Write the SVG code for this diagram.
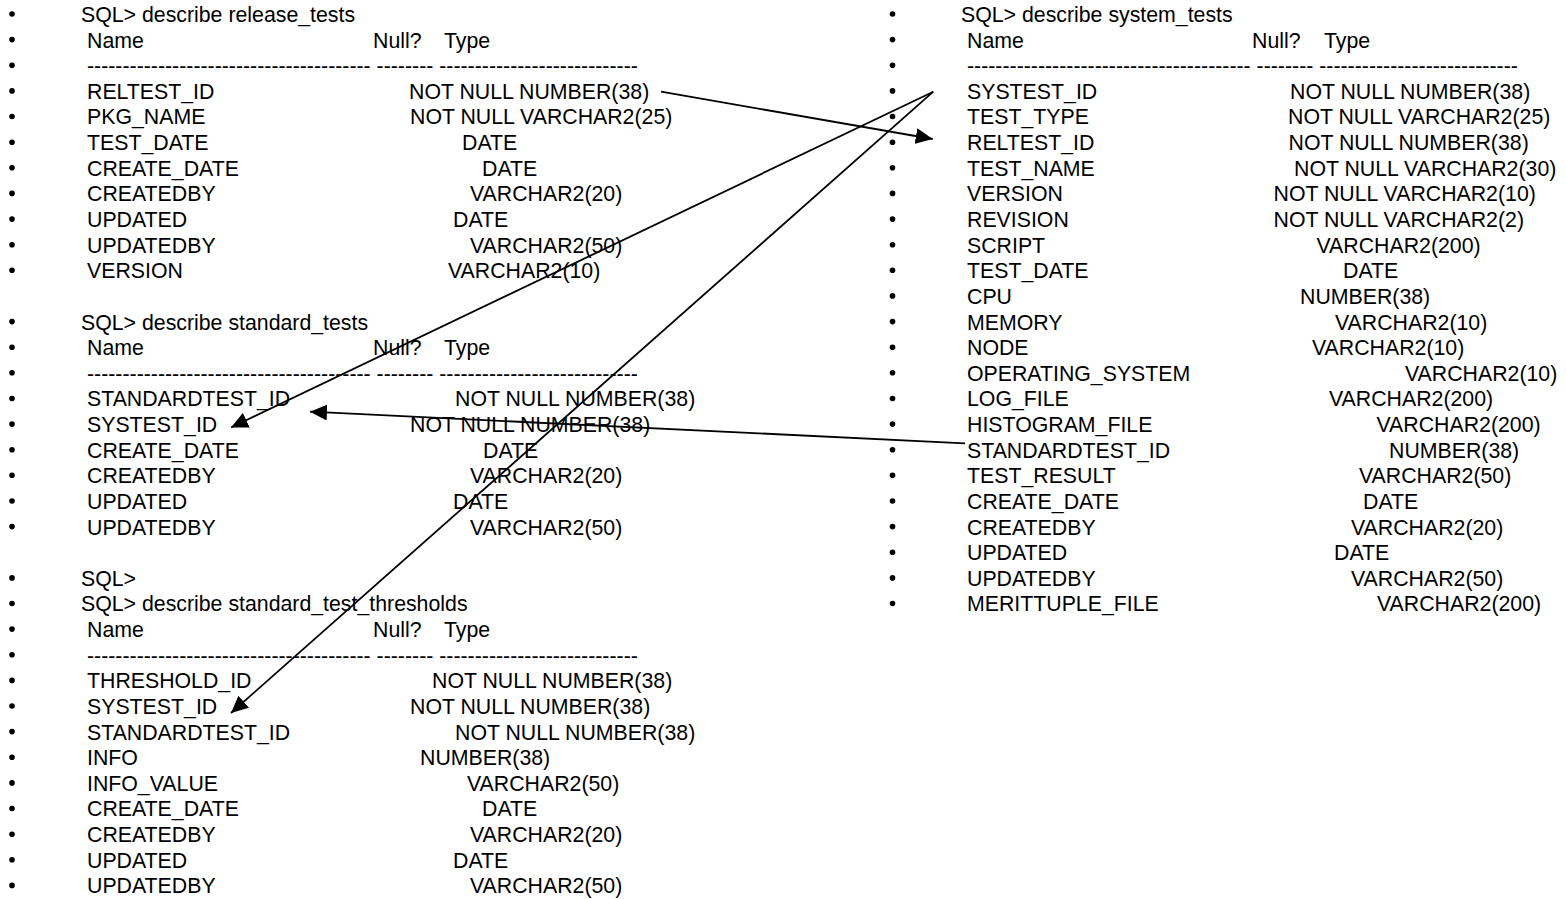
<svg xmlns="http://www.w3.org/2000/svg" width="1566" height="899" viewBox="0 0 1566 899">
<style>
  text { font-family: "Liberation Sans", Arial, Helvetica, sans-serif; font-size: 21.3px; fill: #000; }
  .b { fill: #000; }
  .c { stroke: #000; stroke-width: 1.8; fill: none; }
</style>
<defs>
  <marker id="ah" markerUnits="userSpaceOnUse" markerWidth="18" markerHeight="16" viewBox="0 0 18 16" refX="17" refY="8" orient="auto">
    <path d="M0,0 L17,8 L0,16 z" fill="#000"/>
  </marker>
</defs>
<rect width="1566" height="899" fill="#fff"/>

<g id="release_tests">
  <circle class="b" cx="12" cy="14" r="2.8"/><text x="81" y="21.9">SQL&gt; describe release_tests</text>
  <circle class="b" cx="12" cy="39.6" r="2.8"/><text x="87" y="47.5">Name</text><text x="373" y="47.5">Null?</text><text x="444" y="47.5">Type</text>
  <circle class="b" cx="12" cy="65.3" r="2.8"/><text x="87" y="73.2">---------------------------------------- -------- ----------------------------</text>
  <circle class="b" cx="12" cy="90.9" r="2.8"/><text x="87" y="98.8">RELTEST_ID</text><text x="409" y="98.8">NOT NULL NUMBER(38)</text>
  <circle class="b" cx="12" cy="116.5" r="2.8"/><text x="87" y="124.4">PKG_NAME</text><text x="410" y="124.4">NOT NULL VARCHAR2(25)</text>
  <circle class="b" cx="12" cy="142.2" r="2.8"/><text x="87" y="150.1">TEST_DATE</text><text x="462" y="150.1">DATE</text>
  <circle class="b" cx="12" cy="167.8" r="2.8"/><text x="87" y="175.7">CREATE_DATE</text><text x="482" y="175.7">DATE</text>
  <circle class="b" cx="12" cy="193.4" r="2.8"/><text x="87" y="201.3">CREATEDBY</text><text x="470" y="201.3">VARCHAR2(20)</text>
  <circle class="b" cx="12" cy="219.1" r="2.8"/><text x="87" y="227">UPDATED</text><text x="453" y="227">DATE</text>
  <circle class="b" cx="12" cy="244.7" r="2.8"/><text x="87" y="252.6">UPDATEDBY</text><text x="470" y="252.6">VARCHAR2(50)</text>
  <circle class="b" cx="12" cy="270.3" r="2.8"/><text x="87" y="278.2">VERSION</text><text x="448" y="278.2">VARCHAR2(10)</text>
</g>

<g id="standard_tests">
  <circle class="b" cx="12" cy="321.6" r="2.8"/><text x="81" y="329.5">SQL&gt; describe standard_tests</text>
  <circle class="b" cx="12" cy="347.2" r="2.8"/><text x="87" y="355.1">Name</text><text x="373" y="355.1">Null?</text><text x="444" y="355.1">Type</text>
  <circle class="b" cx="12" cy="372.8" r="2.8"/><text x="87" y="380.7">---------------------------------------- -------- ----------------------------</text>
  <circle class="b" cx="12" cy="398.5" r="2.8"/><text x="87" y="406.4">STANDARDTEST_ID</text><text x="455" y="406.4">NOT NULL NUMBER(38)</text>
  <circle class="b" cx="12" cy="424.1" r="2.8"/><text x="87" y="432">SYSTEST_ID</text><text x="410" y="432">NOT NULL NUMBER(38)</text>
  <circle class="b" cx="12" cy="449.7" r="2.8"/><text x="87" y="457.6">CREATE_DATE</text><text x="483" y="457.6">DATE</text>
  <circle class="b" cx="12" cy="475.3" r="2.8"/><text x="87" y="483.2">CREATEDBY</text><text x="470" y="483.2">VARCHAR2(20)</text>
  <circle class="b" cx="12" cy="501" r="2.8"/><text x="87" y="508.9">UPDATED</text><text x="453" y="508.9">DATE</text>
  <circle class="b" cx="12" cy="526.6" r="2.8"/><text x="87" y="534.5">UPDATEDBY</text><text x="470" y="534.5">VARCHAR2(50)</text>
</g>

<g id="standard_test_thresholds">
  <circle class="b" cx="12" cy="577.9" r="2.8"/><text x="81" y="585.8">SQL&gt;</text>
  <circle class="b" cx="12" cy="603.5" r="2.8"/><text x="81" y="611.4">SQL&gt; describe standard_test_thresholds</text>
  <circle class="b" cx="12" cy="629.1" r="2.8"/><text x="87" y="637">Name</text><text x="373" y="637">Null?</text><text x="444" y="637">Type</text>
  <circle class="b" cx="12" cy="654.8" r="2.8"/><text x="87" y="662.7">---------------------------------------- -------- ----------------------------</text>
  <circle class="b" cx="12" cy="680.4" r="2.8"/><text x="87" y="688.3">THRESHOLD_ID</text><text x="432" y="688.3">NOT NULL NUMBER(38)</text>
  <circle class="b" cx="12" cy="706" r="2.8"/><text x="87" y="713.9">SYSTEST_ID</text><text x="410" y="713.9">NOT NULL NUMBER(38)</text>
  <circle class="b" cx="12" cy="731.6" r="2.8"/><text x="87" y="739.5">STANDARDTEST_ID</text><text x="455" y="739.5">NOT NULL NUMBER(38)</text>
  <circle class="b" cx="12" cy="757.3" r="2.8"/><text x="87" y="765.2">INFO</text><text x="420" y="765.2">NUMBER(38)</text>
  <circle class="b" cx="12" cy="782.9" r="2.8"/><text x="87" y="790.8">INFO_VALUE</text><text x="467" y="790.8">VARCHAR2(50)</text>
  <circle class="b" cx="12" cy="808.5" r="2.8"/><text x="87" y="816.4">CREATE_DATE</text><text x="482" y="816.4">DATE</text>
  <circle class="b" cx="12" cy="834.2" r="2.8"/><text x="87" y="842.1">CREATEDBY</text><text x="470" y="842.1">VARCHAR2(20)</text>
  <circle class="b" cx="12" cy="859.8" r="2.8"/><text x="87" y="867.7">UPDATED</text><text x="453" y="867.7">DATE</text>
  <circle class="b" cx="12" cy="885.4" r="2.8"/><text x="87" y="893.3">UPDATEDBY</text><text x="470" y="893.3">VARCHAR2(50)</text>
</g>

<g id="system_tests">
  <circle class="b" cx="892.5" cy="14" r="2.8"/><text x="961" y="21.9">SQL&gt; describe system_tests</text>
  <circle class="b" cx="892.5" cy="39.6" r="2.8"/><text x="967" y="47.5">Name</text><text x="1252" y="47.5">Null?</text><text x="1324" y="47.5">Type</text>
  <circle class="b" cx="892.5" cy="65.3" r="2.8"/><text x="967" y="73.2">---------------------------------------- -------- ----------------------------</text>
  <circle class="b" cx="892.5" cy="90.9" r="2.8"/><text x="967" y="98.8">SYSTEST_ID</text><text x="1290" y="98.8">NOT NULL NUMBER(38)</text>
  <circle class="b" cx="892.5" cy="116.5" r="2.8"/><text x="967" y="124.4">TEST_TYPE</text><text x="1288" y="124.4">NOT NULL VARCHAR2(25)</text>
  <circle class="b" cx="892.5" cy="142.2" r="2.8"/><text x="967" y="150.1">RELTEST_ID</text><text x="1288.5" y="150.1">NOT NULL NUMBER(38)</text>
  <circle class="b" cx="892.5" cy="167.8" r="2.8"/><text x="967" y="175.7">TEST_NAME</text><text x="1294" y="175.7">NOT NULL VARCHAR2(30)</text>
  <circle class="b" cx="892.5" cy="193.4" r="2.8"/><text x="967" y="201.3">VERSION</text><text x="1273.5" y="201.3">NOT NULL VARCHAR2(10)</text>
  <circle class="b" cx="892.5" cy="219.1" r="2.8"/><text x="967" y="227">REVISION</text><text x="1273.5" y="227">NOT NULL VARCHAR2(2)</text>
  <circle class="b" cx="892.5" cy="244.7" r="2.8"/><text x="967" y="252.6">SCRIPT</text><text x="1316.5" y="252.6">VARCHAR2(200)</text>
  <circle class="b" cx="892.5" cy="270.3" r="2.8"/><text x="967" y="278.2">TEST_DATE</text><text x="1343" y="278.2">DATE</text>
  <circle class="b" cx="892.5" cy="295.9" r="2.8"/><text x="967" y="303.8">CPU</text><text x="1300" y="303.8">NUMBER(38)</text>
  <circle class="b" cx="892.5" cy="321.6" r="2.8"/><text x="967" y="329.5">MEMORY</text><text x="1335" y="329.5">VARCHAR2(10)</text>
  <circle class="b" cx="892.5" cy="347.2" r="2.8"/><text x="967" y="355.1">NODE</text><text x="1312" y="355.1">VARCHAR2(10)</text>
  <circle class="b" cx="892.5" cy="372.8" r="2.8"/><text x="967" y="380.7">OPERATING_SYSTEM</text><text x="1405" y="380.7">VARCHAR2(10)</text>
  <circle class="b" cx="892.5" cy="398.5" r="2.8"/><text x="967" y="406.4">LOG_FILE</text><text x="1329" y="406.4">VARCHAR2(200)</text>
  <circle class="b" cx="892.5" cy="424.1" r="2.8"/><text x="967" y="432">HISTOGRAM_FILE</text><text x="1376.5" y="432">VARCHAR2(200)</text>
  <circle class="b" cx="892.5" cy="449.7" r="2.8"/><text x="967" y="457.6">STANDARDTEST_ID</text><text x="1389" y="457.6">NUMBER(38)</text>
  <circle class="b" cx="892.5" cy="475.3" r="2.8"/><text x="967" y="483.2">TEST_RESULT</text><text x="1359" y="483.2">VARCHAR2(50)</text>
  <circle class="b" cx="892.5" cy="501" r="2.8"/><text x="967" y="508.9">CREATE_DATE</text><text x="1363" y="508.9">DATE</text>
  <circle class="b" cx="892.5" cy="526.6" r="2.8"/><text x="967" y="534.5">CREATEDBY</text><text x="1351" y="534.5">VARCHAR2(20)</text>
  <circle class="b" cx="892.5" cy="552.2" r="2.8"/><text x="967" y="560.1">UPDATED</text><text x="1334" y="560.1">DATE</text>
  <circle class="b" cx="892.5" cy="577.9" r="2.8"/><text x="967" y="585.8">UPDATEDBY</text><text x="1351" y="585.8">VARCHAR2(50)</text>
  <circle class="b" cx="892.5" cy="603.5" r="2.8"/><text x="967" y="611.4">MERITTUPLE_FILE</text><text x="1377" y="611.4">VARCHAR2(200)</text>
</g>

<g id="connectors">
  <line class="c" x1="661" y1="91.7" x2="932.7" y2="139" marker-end="url(#ah)"/>
  <line class="c" x1="933.3" y1="91.7" x2="231" y2="427.5" marker-end="url(#ah)"/>
  <line class="c" x1="933.3" y1="91.7" x2="231" y2="713" marker-end="url(#ah)"/>
  <line class="c" x1="965" y1="443.3" x2="310" y2="411.7" marker-end="url(#ah)"/>
</g>
</svg>
